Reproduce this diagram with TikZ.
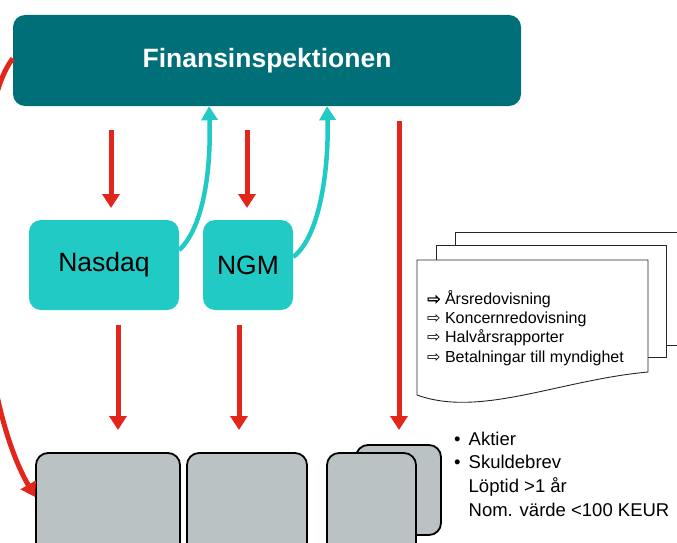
\documentclass[tikz,border=0pt]{standalone}
\usepackage{fontspec}
\setmainfont{Liberation Sans}
\newfontfamily\symfont{DejaVu Sans}
\newfontfamily\boldsymfont[FakeBold=2.5]{DejaVu Sans}
\usetikzlibrary{arrows.meta}
\definecolor{fiteal}{HTML}{006F78}
\definecolor{marketteal}{HTML}{22CAC5}
\definecolor{fired}{HTML}{E2261C}
\definecolor{papergrey}{HTML}{BBC2C4}
\begin{document}
\begin{tikzpicture}[x=1pt, y=-1pt,
  authority/.style={rectangle, rounded corners=12pt, fill=fiteal, inner sep=0pt,
    text=white, font=\fontsize{26.5}{30}\selectfont\bfseries},
  market/.style={rectangle, rounded corners=12pt, fill=marketteal, inner sep=0pt,
    minimum height=90pt, font=\fontsize{26.5}{30}\selectfont},
  paper/.style={rectangle, rounded corners=12pt, fill=papergrey, draw=black,
    line width=1.8pt, inner sep=0pt},
  redarrow/.style={draw=fired, line width=5pt, -{Triangle[width=17pt,length=14pt]}},
  tealarrow/.style={draw=marketteal, line width=4.5pt, -{Triangle[width=16pt,length=14pt]}},
  docpage/.style={draw=black!85, fill=white, line width=0.9pt}]
\useasboundingbox (0,0) rectangle (677,543);
\clip (0,0) rectangle (677,543);

% boxes
\node[authority, minimum width=508pt, minimum height=91pt] (fi) at (267,60.5) {Finansinspektionen};
\node[market, minimum width=150pt] (nasdaq) at (104,265) {Nasdaq};
\node[market, minimum width=90pt] (ngm) at (248,265) {NGM};

\node[paper, minimum width=144pt, minimum height=110pt] (list1) at (108,508) {};
\node[paper, minimum width=120pt, minimum height=110pt] (list2) at (247,508) {};
\node[paper, minimum width=85pt, minimum height=90pt] (list3b) at (398.5,490) {};
\node[paper, minimum width=89pt, minimum height=110pt] (list3) at (371.5,508) {};

% document stack
\draw[docpage] (455,232) rectangle (690,345);
\draw[docpage] (436,245) rectangle (666,357);
\draw[docpage] (417,395) -- (417,260) -- (648,260) -- (648,372)
  .. controls (560,380) and (480,418) .. cycle;
\node[anchor=west, align=left, inner sep=0pt,
  font=\fontsize{16}{19.3}\selectfont] (reports) at (427,328)
  {{\boldsymfont ⇨} Årsredovisning\\
   {\symfont ⇨} Koncernredovisning\\
   {\symfont ⇨} Halvårsrapporter\\
   {\symfont ⇨} Betalningar till myndighet};

\node[anchor=west, inner sep=0pt, font=\fontsize{18.5}{23.8}\selectfont] (kinds) at (454,476)
  {\begin{tabular}{@{}l@{\hspace{8pt}}l@{}}
   • & Aktier\\
   • & Skuldebrev\\
     & Löptid >1 år\\
     & Nom. värde <100 KEUR
   \end{tabular}};

% red arrows
\coordinate (r1s) at (111,130); \coordinate (r1e) at (111,208);
\coordinate (r2s) at (247,130); \coordinate (r2e) at (247,208);
\coordinate (r3s) at (118,325); \coordinate (r3e) at (118,430);
\coordinate (r4s) at (239,325); \coordinate (r4e) at (239,430);
\coordinate (r5s) at (399,121); \coordinate (r5e) at (399,430);
\draw[redarrow] (r1s) -- (r1e);
\draw[redarrow] (r2s) -- (r2e);
\draw[redarrow] (r3s) -- (r3e);
\draw[redarrow] (r4s) -- (r4e);
\draw[redarrow] (r5s) -- (r5e);
\draw[redarrow] ([yshift=2pt]fi.west) .. controls (-32,115) and (-32,380) .. ([yshift=11pt]list1.west);

% teal arrows back
\draw[tealarrow] ([yshift=15pt]nasdaq.east) .. controls (206,225) and (211,160) .. (fi.south -| 209,0);
\draw[tealarrow] ([yshift=8pt]ngm.east) .. controls (322,235) and (329,160) .. (fi.south -| 327,0);
\end{tikzpicture}
\end{document}
